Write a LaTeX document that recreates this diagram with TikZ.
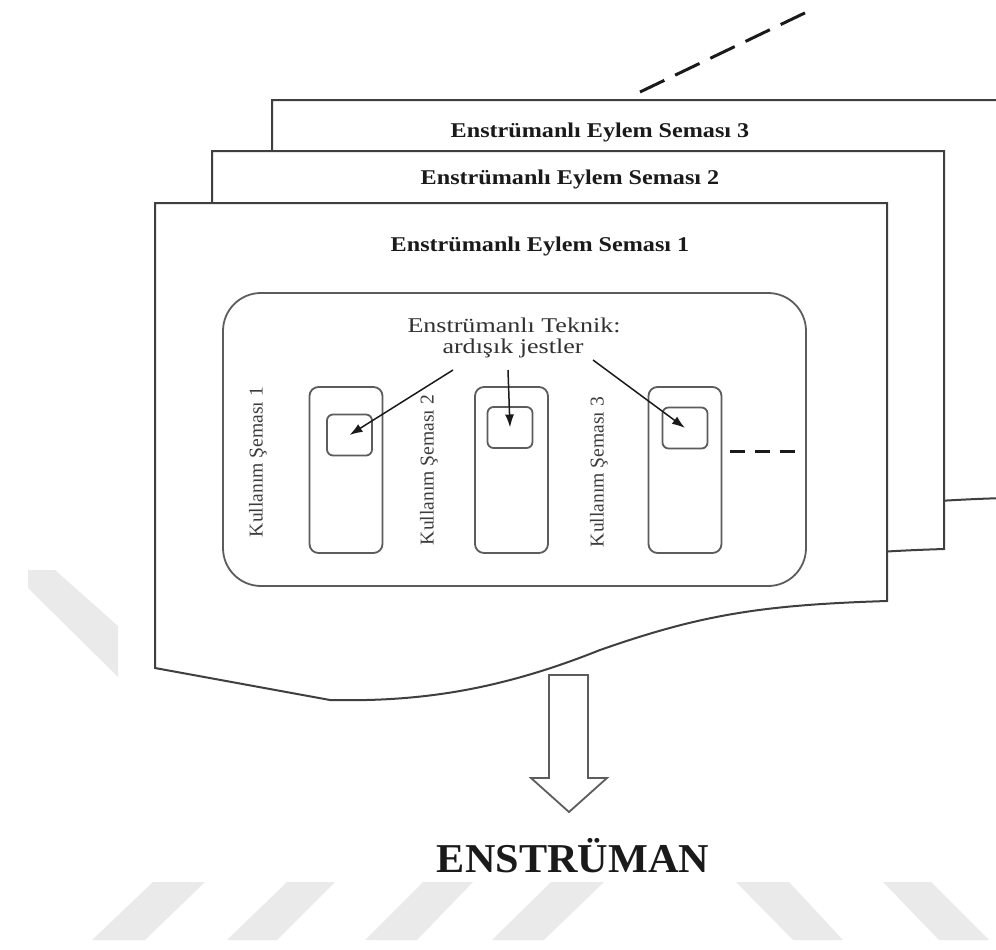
\documentclass[tikz,border=0pt]{standalone}
\usepackage{fontspec}
\setmainfont{Liberation Serif}
\newfontfamily\titlefont[FakeStretch=1.15]{Liberation Serif}
\newfontfamily\techfont[FakeStretch=1.24]{Liberation Serif}
\newfontfamily\bigfont[FakeStretch=1.03]{Liberation Serif}
\usetikzlibrary{arrows.meta}

\definecolor{edge}{HTML}{3F3F3F}
\definecolor{wmark}{HTML}{EAEAEA}
\definecolor{ink}{HTML}{1A1A1A}

% outline of one action-schema sheet (front sheet position)
\newcommand\sheetpath{(155,203) -- (887,203) -- (887,601)
  .. controls (760,605) and (700,615) .. (600,650)
  .. controls (500,690) and (420,702) .. (330,700)
  -- (155,668) -- cycle}

\tikzset{
  sheet/.style={draw=edge, line width=2pt, fill=white, line join=miter},
  panel/.style={draw=edge!85, line width=1.8pt, rounded corners=38pt},
  colbox/.style={draw=edge!85, line width=1.8pt, rounded corners=9pt,
    minimum width=73pt, minimum height=166pt, inner sep=0pt},
  gesture/.style={draw=edge!85, line width=1.8pt, rounded corners=6pt,
    minimum width=45pt, minimum height=41pt, inner sep=0pt},
  pointer/.style={draw=ink, line width=1.5pt, -{Latex[length=13pt,width=9pt]}},
  sheettitle/.style={anchor=base, text=ink, font=\titlefont\bfseries\fontsize{21}{21}\selectfont},
  techtext/.style={anchor=base, text=ink!90, font=\techfont\fontsize{21}{21}\selectfont},
  usage/.style={rotate=90, text=ink!85, font=\fontsize{19.6}{19.6}\selectfont},
  bigdash/.style={draw=ink, line width=3pt},
  stripe/.style={fill=wmark, draw=none},
}

\begin{document}
\begin{tikzpicture}[x=1pt, y=-1pt]
\useasboundingbox (0,0) rectangle (996,950);

% light diagonal stripes in the background
\fill[stripe] (153,882) -- (205,882) -- (145,940) -- (92,940) -- cycle;
\fill[stripe] (287,882) -- (335,882) -- (277,940) -- (227,940) -- cycle;
\fill[stripe] (423,882) -- (473,882) -- (417,940) -- (365,940) -- cycle;
\fill[stripe] (551,882) -- (604,882) -- (544,940) -- (492,940) -- cycle;
\fill[stripe] (736,882) -- (789,882) -- (843,940) -- (793,940) -- cycle;
\fill[stripe] (883,882) -- (931,882) -- (989,940) -- (939,940) -- cycle;
\fill[stripe] (28,570) -- (55,570) -- (118,626) -- (118,677) -- (28,588) -- cycle;

% dashed continuation of the stack
\coordinate (dashA) at (640,92);
\coordinate (dashB) at (811,10);
\draw[bigdash, dash pattern=on 27pt off 12pt] (dashA) -- (dashB);

% stacked sheets, back to front
\begin{scope}[shift={(117,-103)}]
  \filldraw[sheet] \sheetpath;
\end{scope}
\begin{scope}[shift={(57,-52)}]
  \filldraw[sheet] \sheetpath;
\end{scope}
\filldraw[sheet] \sheetpath;

\node[sheettitle] (title3) at (600,137) {Enstrümanlı Eylem Seması 3};
\node[sheettitle] (title2) at (570,184) {Enstrümanlı Eylem Seması 2};
\node[sheettitle] (title1) at (540,251) {Enstrümanlı Eylem Seması 1};

% inner panel with the usage schemas
\draw[panel] (223,293) rectangle (806,586);

\node[techtext] (tech1) at (514,332) {Enstrümanlı Teknik:};
\node[techtext] (tech2) at (513,353) {ardışık jestler};

\node[colbox] (col1) at (346,470) {};
\node[colbox] (col2) at (511.5,470) {};
\node[colbox] (col3) at (685,470) {};

\node[gesture] (sq1) at (349.5,435) {};
\node[gesture] (sq2) at (510,427.5) {};
\node[gesture] (sq3) at (685,428) {};

\node[usage] (use1) at (258,462) {Kullanım Şeması 1};
\node[usage] (use2) at (429,470) {Kullanım Şeması 2};
\node[usage] (use3) at (599,472) {Kullanım Şeması 3};

\coordinate (src1) at (453,370);
\coordinate (src2) at (508,370);
\coordinate (src3) at (593,360);
\draw[pointer] (src1) -- (sq1.center);
\draw[pointer] (src2) -- (sq2.center);
\draw[pointer] (src3) -- (sq3.center);

\coordinate (moreA) at (730,451);
\coordinate (moreB) at (797,451);
\draw[bigdash, dash pattern=on 15pt off 10pt] (moreA) -- (moreB);

% hollow arrow towards the instrument
\draw[draw=edge!85, line width=1.8pt, fill=white, line join=miter]
  (549,675) -- (588,675) -- (588,778) -- (607,778) -- (569,812)
  -- (531,778) -- (549,778) -- cycle;

\node[anchor=base, text=ink, font=\bigfont\bfseries\fontsize{41}{41}\selectfont]
  (instr) at (573,872) {ENSTRÜMAN};
\end{tikzpicture}
\end{document}
